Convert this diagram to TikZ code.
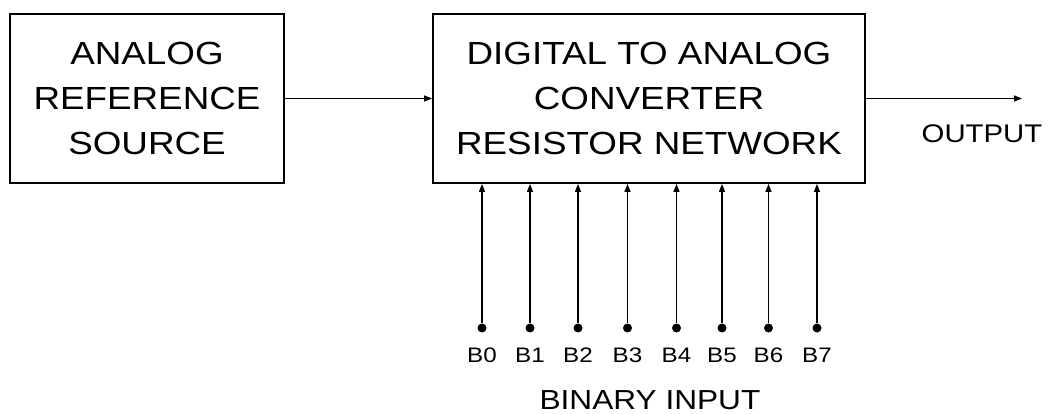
\documentclass[tikz,border=0pt]{standalone}
\usepackage{fontspec}
\setmainfont{Liberation Sans}[FakeStretch=1.15]
\usetikzlibrary{arrows.meta}
\begin{document}
\begin{tikzpicture}[x=1pt,y=-1pt,line width=1.4pt,
  >={Triangle[length=8pt,width=6pt]},
  blk/.style={draw,line width=1.8pt,align=center,inner sep=0pt,minimum height=169pt,font=\fontsize{32}{45}\selectfont},
  bitdot/.style={circle,fill,inner sep=0pt,minimum size=9pt}]
\useasboundingbox (0,0) rectangle (1052,414);
\node[blk,minimum width=274pt] (ref) at (147,98.5) {ANALOG\\REFERENCE\\SOURCE};
\node[blk,minimum width=432pt] (dac) at (649,98.5) {DIGITAL TO ANALOG\\CONVERTER\\RESISTOR NETWORK};
\draw[->] (ref) -- (dac);
\coordinate (out) at (1022,98.5);
\draw[->] (dac) -- (out);
\node[font=\fontsize{25.5}{30}\selectfont] (outlbl) at (982,134) {OUTPUT};
% data bits
\foreach \i/\x in {0/482,1/530,2/578,3/627.5,4/676.5,5/722,6/768.5,7/817} {
  \node[bitdot] (b\i) at (\x,328) {};
  \draw[->] (b\i) -- (b\i |- dac.south);
  \node[font=\fontsize{21}{25}\selectfont] (lb\i) at (\x,355) {B\i};
}
\node[font=\fontsize{27.5}{32}\selectfont] (binlbl) at (650,400) {BINARY INPUT};
\end{tikzpicture}
\end{document}
